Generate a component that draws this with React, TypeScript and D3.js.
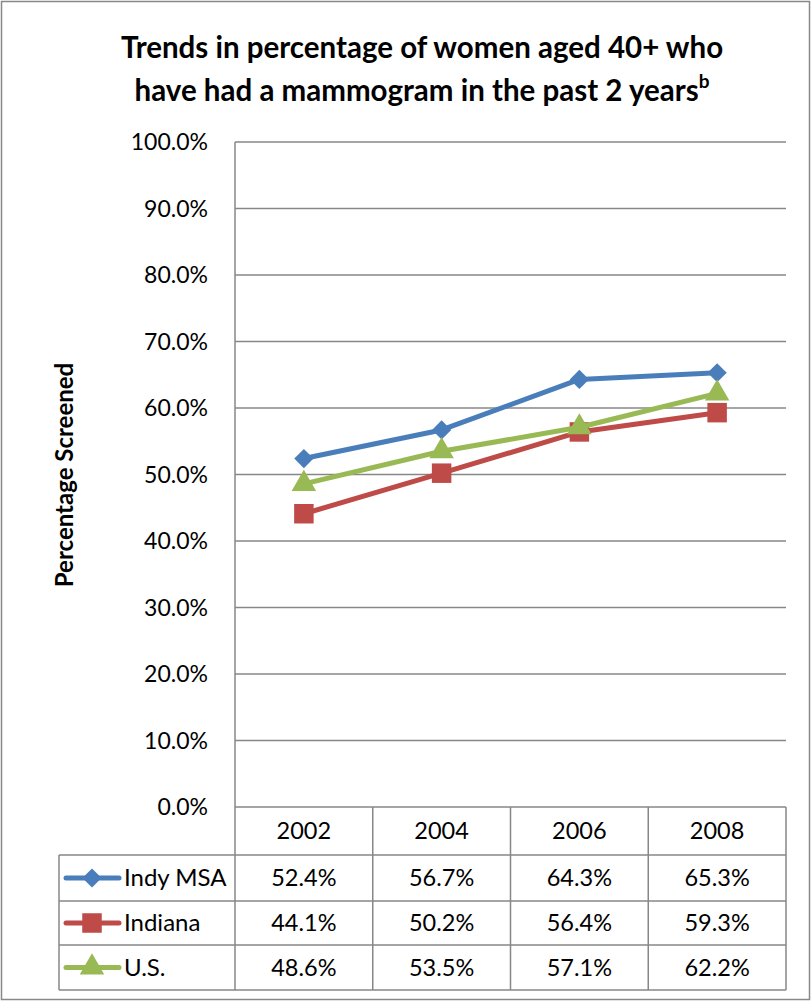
import * as d3 from 'd3';
import { useMemo } from 'react';

const years = ['2002', '2004', '2006', '2008'];
const seriesNames = ['Indy MSA', 'Indiana', 'U.S.'];
const indyMsa = [52.4, 56.7, 64.3, 65.3];
const indiana = [44.1, 50.2, 56.4, 59.3];
const us = [48.6, 53.5, 57.1, 62.2];
const yTicks = [0, 10, 20, 30, 40, 50, 60, 70, 80, 90, 100];

const COLORS = ['#4A7EBB', '#BE4B48', '#98B954'];
const SHAPES = [d3.symbolSquare, d3.symbolSquare, d3.symbolTriangle];
const SIZES = [185, 380, 260];
const FONT = 'Lato, "Open Sans", sans-serif';

const W = 811,
    H = 1002;
const PLOT = { left: 235, right: 786, top: 142, bottom: 807 };
const TABLE_LEFT = 59;
const ROW_LINES = [807, 855, 901, 945, 990];

function Marker({ i, x, y }: { i: number; x: number; y: number }) {
    const path = d3.symbol(SHAPES[i], SIZES[i])() || '';
    // diamond = square rotated 45 degrees
    const rot = i === 0 ? 45 : 0;
    return (
        <path
            d={path}
            fill={COLORS[i]}
            transform={`translate(${x},${y}) rotate(${rot})`}
        />
    );
}

export default function App() {
    const series = [indyMsa, indiana, us];

    const xScale = useMemo(
        () => d3.scaleBand().domain(years).range([PLOT.left, PLOT.right]),
        []
    );
    const yScale = useMemo(
        () => d3.scaleLinear().domain([0, 100]).range([PLOT.bottom, PLOT.top]),
        []
    );
    const cx = (yr: string) => (xScale(yr) || 0) + xScale.bandwidth() / 2;

    const line = d3
        .line<[string, number]>()
        .x((d) => cx(d[0]))
        .y((d) => yScale(d[1]));

    const grid = '#878787';

    return (
        <div style={{ position: 'absolute', left: 0, top: 0 }}>
            <svg width={W} height={H} style={{ display: 'block' }} fontFamily={FONT}>
                <rect x={0} y={0} width={W} height={H} fill="#fff" />
                <rect x={1.5} y={1.5} width={W - 3} height={H - 4} fill="none" stroke="#888" strokeWidth={1.5} />

                {/* title */}
                <text x={422} y={58} textAnchor="middle" fontSize={29.5} fontWeight="bold" fill="#000">
                    Trends in percentage of women aged 40+ who
                </text>
                <text x={422} y={101} textAnchor="middle" fontSize={29.5} fontWeight="bold" fill="#000">
                    have had a mammogram in the past 2 years
                    <tspan fontSize={19} dy={-13}>b</tspan>
                </text>

                {/* y axis title */}
                <text
                    transform="translate(73,475) rotate(-90)"
                    textAnchor="middle"
                    fontSize={24}
                    fontWeight="bold"
                    fill="#000"
                >
                    Percentage Screened
                </text>

                {/* gridlines + y labels */}
                {yTicks.map((t) => (
                    <g key={t}>
                        <line x1={PLOT.left} x2={PLOT.right} y1={yScale(t)} y2={yScale(t)} stroke={grid} strokeWidth={1.5} />
                        <text x={208} y={yScale(t)} dy="0.35em" textAnchor="end" fontSize={23} fill="#000">
                            {t.toFixed(1)}%
                        </text>
                    </g>
                ))}
                <line x1={PLOT.left} x2={PLOT.left} y1={PLOT.top} y2={ROW_LINES[4]} stroke={grid} strokeWidth={1.5} />

                {/* data table */}
                {ROW_LINES.slice(1).map((y) => (
                    <line key={y} x1={TABLE_LEFT} x2={PLOT.right} y1={y} y2={y} stroke={grid} strokeWidth={1.5} />
                ))}
                <line x1={TABLE_LEFT} x2={TABLE_LEFT} y1={ROW_LINES[1]} y2={ROW_LINES[4]} stroke={grid} strokeWidth={1.5} />
                {years.map((yr) => (
                    <line
                        key={yr}
                        x1={(xScale(yr) || 0) + xScale.bandwidth()}
                        x2={(xScale(yr) || 0) + xScale.bandwidth()}
                        y1={PLOT.bottom}
                        y2={ROW_LINES[4]}
                        stroke={grid}
                        strokeWidth={1.5}
                    />
                ))}
                {years.map((yr) => (
                    <text key={yr} x={cx(yr)} y={(ROW_LINES[0] + ROW_LINES[1]) / 2} dy="0.35em" textAnchor="middle" fontSize={23.5} fill="#000">
                        {yr}
                    </text>
                ))}
                {series.map((vals, i) => {
                    const rowMid = (ROW_LINES[i + 1] + ROW_LINES[i + 2]) / 2;
                    return (
                        <g key={seriesNames[i]}>
                            <line x1={66} x2={119} y1={rowMid} y2={rowMid} stroke={COLORS[i]} strokeWidth={5} strokeLinecap="round" />
                            <Marker i={i} x={92} y={rowMid} />
                            <text x={124} y={rowMid} dy="0.35em" fontSize={24} fill="#000">
                                {seriesNames[i]}
                            </text>
                            {vals.map((v, j) => (
                                <text key={j} x={cx(years[j])} y={rowMid} dy="0.35em" textAnchor="middle" fontSize={23.5} fill="#000">
                                    {v.toFixed(1)}%
                                </text>
                            ))}
                        </g>
                    );
                })}

                {/* lines */}
                {series.map((vals, i) => (
                    <g key={seriesNames[i]}>
                        <path
                            d={line(years.map((yr, j) => [yr, vals[j]])) || ''}
                            fill="none"
                            stroke={COLORS[i]}
                            strokeWidth={5}
                            strokeLinejoin="round"
                            strokeLinecap="round"
                        />
                        {vals.map((v, j) => (
                            <Marker key={j} i={i} x={cx(years[j])} y={yScale(v)} />
                        ))}
                    </g>
                ))}
            </svg>
        </div>
    );
}
